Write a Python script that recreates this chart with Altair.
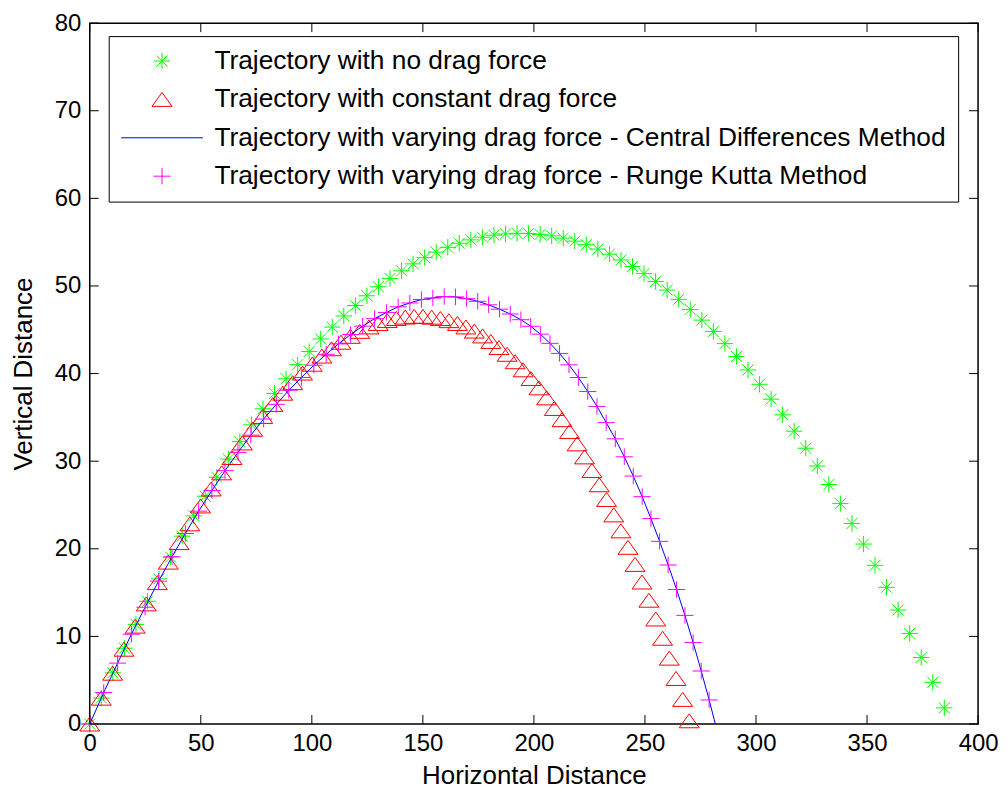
import altair as alt
import pandas as pd

series_names = [
    "Trajectory with no drag force",
    "Trajectory with constant drag force",
    "Trajectory with varying drag force - Central Differences Method",
    "Trajectory with varying drag force - Runge Kutta Method",
]
series_colors = ["#00FF00", "#FF0000", "#0000FF", "#FF00FF"]

x_ticks = [0, 50, 100, 150, 200, 250, 300, 350, 400]
y_ticks = [0, 10, 20, 30, 40, 50, 60, 70, 80]

# no drag (green stars)
nodrag_x = [0, 5.2, 10.4, 15.6, 20.8, 26.0, 31.2, 36.4, 41.6, 46.8, 52.0, 57.2, 62.4, 67.6, 72.8,
            78.0, 83.2, 88.4, 93.6, 98.8, 104.0, 109.2, 114.4, 119.6, 124.8, 130.0, 135.2, 140.4,
            145.6, 150.8, 156.0, 161.2, 166.4, 171.6, 176.8, 182.0, 187.2, 192.4, 197.6, 202.8,
            208.0, 213.2, 218.4, 223.6, 228.8, 234.0, 239.2, 244.4, 249.6, 254.8, 260.0, 265.2,
            270.4, 275.6, 280.8, 286.0, 291.2, 296.4, 301.6, 306.8, 312.0, 317.2, 322.4, 327.6,
            332.8, 338.0, 343.2, 348.4, 353.6, 358.8, 364.0, 369.2, 374.4, 379.6, 384.8]
nodrag_y = [0, 2.96, 5.84, 8.65, 11.37, 14.01, 16.57, 19.05, 21.44, 23.76, 26.00, 28.16, 30.24,
            32.23, 34.15, 35.98, 37.74, 39.41, 41.01, 42.52, 43.95, 45.31, 46.58, 47.77, 48.88,
            49.91, 50.86, 51.73, 52.52, 53.23, 53.86, 54.41, 54.88, 55.26, 55.57, 55.80, 55.94,
            56.01, 55.99, 55.89, 55.72, 55.46, 55.12, 54.71, 54.21, 53.63, 52.97, 52.23, 51.41,
            50.51, 49.53, 48.47, 47.32, 46.10, 44.80, 43.42, 41.95, 40.41, 38.78, 37.08, 35.29,
            33.43, 31.48, 29.45, 27.34, 25.16, 22.89, 20.54, 18.11, 15.60, 13.01, 10.34, 7.59,
            4.76, 1.84]

# constant drag (red triangles)
const_x = [0, 5.18, 10.31, 15.41, 20.46, 25.47, 30.44, 35.36, 40.25, 45.09, 49.90, 54.66, 59.39,
           64.07, 68.72, 73.33, 77.90, 82.43, 86.92, 91.38, 95.80, 100.18, 104.53, 108.84, 113.12,
           117.36, 121.56, 125.73, 129.87, 133.97, 138.03, 142.07, 146.07, 150.03, 153.97, 157.87,
           161.73, 165.57, 169.38, 173.15, 176.89, 180.60, 184.28, 187.93, 191.55, 195.14, 198.70,
           202.23, 205.73, 209.20, 212.64, 216.05, 219.44, 222.80, 226.12, 229.43, 232.70, 235.95,
           239.17, 242.36, 245.53, 248.67, 251.78, 254.87, 257.94, 260.97, 263.99, 266.97, 269.94]
const_y = [0, 2.95, 5.80, 8.54, 11.17, 13.71, 16.14, 18.48, 20.71, 22.85, 24.89, 26.83, 28.67,
           30.42, 32.08, 33.64, 35.11, 36.48, 37.76, 38.96, 40.06, 41.07, 42.00, 42.83, 43.58,
           44.25, 44.82, 45.32, 45.72, 46.05, 46.29, 46.45, 46.53, 46.53, 46.44, 46.28, 46.04,
           45.72, 45.32, 44.85, 44.30, 43.67, 42.97, 42.20, 41.35, 40.43, 39.43, 38.37, 37.23,
           36.02, 34.74, 33.39, 31.98, 30.49, 28.94, 27.31, 25.63, 23.87, 22.05, 20.17, 18.22,
           16.21, 14.13, 11.99, 9.79, 7.52, 5.20, 2.81, 0.37]

# varying drag, central differences (blue line)
cd_x = [0, 6.3, 12.55, 18.75, 24.9, 31.0, 37.05, 43.05, 49.05, 55.0, 60.9, 66.75, 72.55, 78.3,
        84.0, 89.65, 95.3, 100.9, 106.47, 111.98, 117.45, 122.88, 128.26, 133.6, 138.89, 144.14,
        149.34, 154.5, 159.61, 164.68, 169.7, 174.68, 179.62, 184.5, 189.35, 194.15, 198.55,
        202.9, 207.25, 211.55, 215.8, 220.05, 224.25, 228.4, 232.55, 236.65, 240.7, 244.75,
        248.75, 252.7, 256.6, 260.45, 264.25, 268.0, 271.7, 275.35, 278.9, 281.7]
cd_y = [0, 3.6, 6.95, 10.25, 13.33, 16.31, 19.09, 21.75, 24.3, 26.65, 28.92, 31.0, 32.97, 34.81,
        36.49, 38.1, 39.55, 40.95, 42.2, 43.39, 44.45, 45.41, 46.27, 46.98, 47.62, 48.06, 48.45,
        48.63, 48.79, 48.75, 48.55, 48.25, 47.85, 47.35, 46.8, 46.15, 45.4, 44.5, 43.45, 42.3,
        41.0, 39.55, 37.95, 36.25, 34.4, 32.55, 30.5, 28.3, 25.95, 23.45, 20.85, 18.15, 15.35,
        12.4, 9.3, 6.05, 2.75, 0.0]

# varying drag, Runge Kutta (magenta plus)
rk_x = [0, 6.3, 12.55, 18.75, 24.9, 31.0, 37.05, 43.05, 49.05, 55.0, 60.9, 66.75, 72.55, 78.3,
        84.0, 89.65, 95.3, 100.9, 106.47, 111.98, 117.45, 122.88, 128.26, 133.6, 138.89, 144.14,
        149.34, 154.5, 159.61, 164.68, 169.7, 174.68, 179.62, 184.5, 189.35, 194.15, 198.55,
        202.9, 207.25, 211.55, 215.8, 220.05, 224.25, 228.4, 232.55, 236.65, 240.7, 244.75,
        248.75, 252.7, 256.6, 260.45, 264.25, 268.0, 271.7, 275.35, 278.9]
rk_y = [0, 3.6, 6.95, 10.25, 13.33, 16.31, 19.09, 21.75, 24.3, 26.65, 28.92, 31.0, 32.97, 34.81,
        36.49, 38.1, 39.55, 40.95, 42.2, 43.39, 44.45, 45.41, 46.27, 46.98, 47.62, 48.06, 48.45,
        48.63, 48.79, 48.75, 48.55, 48.25, 47.85, 47.35, 46.8, 46.15, 45.4, 44.5, 43.45, 42.3,
        41.0, 39.55, 37.95, 36.25, 34.4, 32.55, 30.5, 28.3, 25.95, 23.45, 20.85, 18.15, 15.35,
        12.4, 9.3, 6.05, 2.75]

W, H = 891, 703
FONT = "Liberation Sans"
SYM = 6724  # symbol box 82 px; marker paths drawn small inside it

STAR = "M-0.2,0L0.2,0M0,-0.2L0,0.2M-0.135,-0.135L0.135,0.135M-0.135,0.135L0.135,-0.135"
TRI = "M0,-0.171L0.244,0.171L-0.244,0.171Z"
PLUS = "M-0.21,0L0.21,0M0,-0.2L0,0.2"

xs = alt.Scale(domain=[0, 400], nice=False, zero=False)
ys = alt.Scale(domain=[0, 80], nice=False, zero=False)
color_scale = alt.Scale(domain=series_names, range=series_colors)
shape_scale = alt.Scale(domain=series_names, range=[STAR, TRI, "stroke", PLUS])

legend = alt.Legend(
    title=None, orient="none", legendX=19, legendY=13,
    strokeColor="black", fillColor="white", padding=12, cornerRadius=0,
    labelFont=FONT, labelFontSize=26.4, labelColor="black", labelLimit=2000,
    symbolSize=SYM, symbolStrokeWidth=1, labelOffset=11,
    clipHeight=26, rowPadding=11.5,
)

x_axis = alt.Axis(values=x_ticks, title="Horizontal Distance", ticks=False, tickSize=0,
                  domain=False, grid=False, labelFont=FONT, labelFontSize=24, labelColor="black",
                  titleFont=FONT, titleFontSize=26, titleFontWeight="normal", titleColor="black",
                  labelPadding=8, titlePadding=7, labelFlush=False, labelOverlap=False, format="d")
y_axis = alt.Axis(values=y_ticks, title="Vertical Distance", ticks=False, tickSize=0,
                  domain=False, grid=False, labelFont=FONT, labelFontSize=24, labelColor="black",
                  titleFont=FONT, titleFontSize=26, titleFontWeight="normal", titleColor="black",
                  labelPadding=9, titlePadding=18, labelFlush=False, labelOverlap=False, format="d")

df_nd = pd.DataFrame({"x": nodrag_x, "y": nodrag_y, "series": series_names[0]})
df_cn = pd.DataFrame({"x": const_x, "y": const_y, "series": series_names[1]})
df_cd = pd.DataFrame({"x": cd_x, "y": cd_y, "series": series_names[2]})
df_rk = pd.DataFrame({"x": rk_x, "y": rk_y, "series": series_names[3]})


def points(df):
    return alt.Chart(df).mark_point(filled=False, size=SYM, strokeWidth=1, opacity=1).encode(
        x=alt.X("x:Q", scale=xs, axis=x_axis),
        y=alt.Y("y:Q", scale=ys, axis=y_axis),
        color=alt.Color("series:N", scale=color_scale, legend=legend),
        shape=alt.Shape("series:N", scale=shape_scale, legend=legend),
    )


green = points(df_nd)
red = points(df_cn)
magenta = points(df_rk)
blue = alt.Chart(df_cd).mark_line(strokeWidth=1).encode(
    x=alt.X("x:Q", scale=xs, axis=x_axis),
    y=alt.Y("y:Q", scale=ys, axis=y_axis),
    color=alt.value("#0000FF"),
    order=alt.Order("x:Q"),
)

xt = pd.DataFrame({"t": x_ticks})
yt = pd.DataFrame({"t": y_ticks})
TL = 9
tick_b = alt.Chart(xt).mark_rule(color="black", strokeWidth=1).encode(
    x=alt.X("t:Q", scale=xs, axis=x_axis), y=alt.value(H), y2=alt.value(H - TL))
tick_t = alt.Chart(xt).mark_rule(color="black", strokeWidth=1).encode(
    x=alt.X("t:Q", scale=xs, axis=x_axis), y=alt.value(0), y2=alt.value(TL))
tick_l = alt.Chart(yt).mark_rule(color="black", strokeWidth=1).encode(
    y=alt.Y("t:Q", scale=ys, axis=y_axis), x=alt.value(0), x2=alt.value(TL))
tick_r = alt.Chart(yt).mark_rule(color="black", strokeWidth=1).encode(
    y=alt.Y("t:Q", scale=ys, axis=y_axis), x=alt.value(W), x2=alt.value(W - TL))

chart = alt.layer(green, red, blue, magenta, tick_b, tick_t, tick_l, tick_r).properties(
    width=W, height=H,
    autosize=alt.AutoSizeParams(type="none"),
    padding={"left": 82, "top": 14, "right": 22, "bottom": 66},
    background="white",
).configure_view(stroke="black", strokeWidth=1.5)

chart.save("out.html", embed_options={"renderer": "svg", "actions": False})
